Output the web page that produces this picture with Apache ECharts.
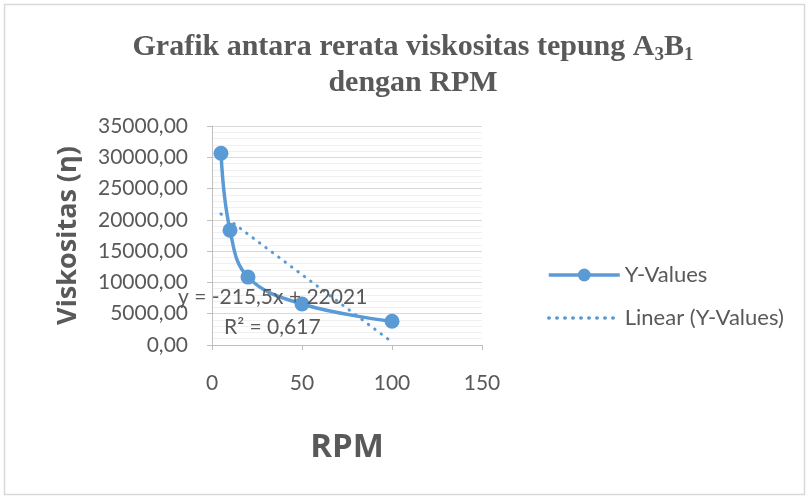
<!DOCTYPE html>
<html>
<head>
    <meta charset="utf-8">
    <title>Grafik viskositas</title>
    <script src="https://cdn.jsdelivr.net/npm/echarts@6/dist/echarts.min.js"></script>
    <style>
        html, body {margin: 0; padding: 0; background: #fff;}
        #chart {width: 806px; height: 497px;}
    </style>
</head>
<body>
<div id="chart"></div>
<script>
    // data
    var rpm = [5, 10, 20, 50, 100];
    var viskositas = [30650, 18350, 10850, 6550, 3800];
    // linear trend line (from the equation y = -215,5x + 22021)
    var trendX = [5, 100];
    var trendY = [20943.5, 471];
    var xTicks = [0, 50, 100, 150];
    var yTicks = [0, 5000, 10000, 15000, 20000, 25000, 30000, 35000];

    var gray = '#595959';
    var blue = '#5b9bd5';

    var chart = echarts.init(document.getElementById('chart'));

    var option = {
        backgroundColor: '#ffffff',
        animation: false,
        title: {
            text: '{a|Grafik antara rerata viskositas tepung A}{s|3}{a|B}{s|1}\n{a|dengan RPM}',
            left: 408,
            top: 24,
            textAlign: 'center',
            textStyle: {
                rich: {
                    a: {fontFamily: 'Liberation Serif', fontWeight: 'bold', fontSize: 30, color: gray, lineHeight: 36},
                    s: {fontFamily: 'Liberation Serif', fontWeight: 'bold', fontSize: 19, color: gray, lineHeight: 16, verticalAlign: 'bottom'}
                }
            }
        },
        legend: {
            orient: 'vertical',
            left: 542,
            top: 259,
            itemWidth: 71,
            itemHeight: 16,
            itemGap: 21,
            textStyle: {fontFamily: 'Lato', fontSize: 22, color: gray},
            data: [
                {name: 'Y-Values', lineStyle: {width: 3.5}},
                {name: 'Linear (Y-Values)', itemStyle: {opacity: 0}, lineStyle: {width: 3.5}}
            ]
        },
        grid: {left: 212, right: 324, top: 126, bottom: 152},
        xAxis: {
            type: 'value',
            min: xTicks[0],
            max: xTicks[xTicks.length - 1],
            interval: 50,
            name: 'RPM',
            nameLocation: 'middle',
            nameGap: 86,
            nameTextStyle: {fontFamily: 'Open Sans', fontWeight: 'bold', fontSize: 33, color: gray},
            axisLine: {lineStyle: {color: '#bfbfbf', width: 1}},
            axisTick: {show: true, length: 5, lineStyle: {color: '#bfbfbf'}},
            axisLabel: {margin: 28, fontFamily: 'Lato', fontSize: 21, color: gray},
            splitLine: {show: false}
        },
        yAxis: {
            type: 'value',
            min: yTicks[0],
            max: yTicks[yTicks.length - 1],
            interval: 5000,
            name: 'Viskositas (η)',
            nameLocation: 'middle',
            nameGap: 130,
            nameRotate: 90,
            nameTextStyle: {fontFamily: 'Open Sans', fontWeight: 'bold', fontSize: 27, color: gray},
            axisLine: {show: true, lineStyle: {color: '#bfbfbf', width: 1}},
            axisTick: {show: true, length: 5, lineStyle: {color: '#bfbfbf'}},
            axisLabel: {
                margin: 24,
                fontFamily: 'Lato', fontSize: 21, color: gray,
                formatter: function (v) {
                    return v.toFixed(2).replace('.', ',');
                }
            },
            splitLine: {lineStyle: {color: '#d9d9d9', width: 1}},
            minorTick: {show: false, splitNumber: 5},
            minorSplitLine: {show: true, lineStyle: {color: '#f0f0f0', width: 1}}
        },
        series: [
            {
                name: 'Linear (Y-Values)',
                type: 'line',
                data: trendX.map(function (x, i) { return [x, trendY[i]]; }),
                showSymbol: false,
                symbol: 'none',
                lineStyle: {color: blue, width: 3, type: [0.5, 7.5], cap: 'round'},
                itemStyle: {color: blue},
                z: 3
            },
            {
                name: 'Y-Values',
                type: 'line',
                data: rpm.map(function (x, i) { return [x, viskositas[i]]; }),
                smooth: 0.4,
                symbol: 'circle',
                symbolSize: 15,
                lineStyle: {color: blue, width: 3.5},
                itemStyle: {color: blue},
                z: 4
            }
        ],
        graphic: [
            {
                type: 'rect',
                shape: {x: 4.5, y: 4.5, width: 800, height: 490},
                style: {fill: 'none', stroke: '#d9d9d9', lineWidth: 1.5},
                silent: true
            },
            {
                type: 'text',
                left: 178,
                top: 287,
                z: 10,
                style: {text: 'y = -215,5x + 22021', fontFamily: 'Lato', fontSize: 21, fill: gray}
            },
            {
                type: 'text',
                left: 224,
                top: 317,
                z: 10,
                style: {text: 'R² = 0,617', fontFamily: 'Lato', fontSize: 21, fill: gray}
            }
        ]
    };

    chart.setOption(option);
</script>
</body>
</html>
